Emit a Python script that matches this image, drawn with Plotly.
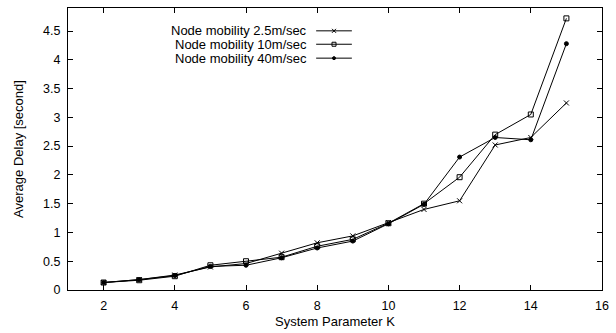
import plotly.graph_objects as go

K = [2, 3, 4, 5, 6, 7, 8, 9, 10, 11, 12, 13, 14, 15]
mob_2_5 = [0.13, 0.18, 0.26, 0.40, 0.46, 0.64, 0.82, 0.94, 1.17, 1.40, 1.55, 2.52, 2.65, 3.25]
mob_10 = [0.13, 0.17, 0.24, 0.43, 0.50, 0.57, 0.76, 0.88, 1.16, 1.50, 1.96, 2.70, 3.05, 4.72]
mob_40 = [0.13, 0.18, 0.25, 0.41, 0.43, 0.56, 0.73, 0.85, 1.15, 1.49, 2.31, 2.65, 2.61, 4.28]
names = ["Node mobility 2.5m/sec", "Node mobility 10m/sec", "Node mobility 40m/sec"]
symbols = ["x-thin-open", "square-open", "circle"]
sizes = [5, 5, 4]
series = [mob_2_5, mob_10, mob_40]

FONT = "Liberation Sans, Arial, sans-serif"
fig = go.Figure()
for s, nm, sym, sz in zip(series, names, symbols, sizes):
    fig.add_trace(go.Scatter(x=K, y=s, mode="lines+markers", name=nm,
                             line=dict(color="black", width=1),
                             marker=dict(symbol=sym, size=sz, color="black",
                                         line=dict(color="black", width=1)),
                             showlegend=False))

# manual gnuplot-style key (text right, sample on right)
W, H = 616, 333
ml, mr, mt, mb = 68, 10, 7, 42
pw, ph = W - ml - mr, H - mt - mb
def px(x):
    return (x - ml) / pw
def py(y):
    return (H - mb - y) / ph
rows = [30, 43.5, 57.5]
for i, (nm, sym, sz) in enumerate(zip(names, symbols, sizes)):
    y = py(rows[i])
    fig.add_annotation(x=px(311), y=y, xref="paper", yref="paper", text=nm,
                       showarrow=False, xanchor="right", yanchor="middle",
                       font=dict(family=FONT, size=13, color="black"))
    fig.add_shape(type="line", xref="paper", yref="paper", x0=px(318), x1=px(354),
                  y0=y, y1=y, line=dict(color="black", width=1))
    fig.add_trace(go.Scatter(x=[px(336)], y=[y], xaxis="x2", yaxis="y2", mode="markers",
                             marker=dict(symbol=sym, size=sz - 1, color="black",
                                         line=dict(color="black", width=1)),
                             showlegend=False, hoverinfo="skip"))

axis_common = dict(showgrid=False, zeroline=False, showline=True, linecolor="black",
                   linewidth=1, mirror="ticks", ticks="inside", ticklen=5,
                   tickcolor="black", ticklabelstandoff=4,
                   tickfont=dict(family=FONT, size=12.5, color="black"))
fig.update_layout(
    width=W, height=H,
    margin=dict(l=ml, r=mr, t=mt, b=mb),
    plot_bgcolor="white", paper_bgcolor="white",
    xaxis=dict(range=[1, 16], dtick=2, tick0=0,
               title=dict(text="System Parameter K", font=dict(family=FONT, size=13, color="black"), standoff=4),
               **axis_common),
    yaxis=dict(range=[0, 4.9], dtick=0.5, tick0=0,
               title=dict(text="Average Delay [second]", font=dict(family=FONT, size=13, color="black"), standoff=16),
               **axis_common),
    xaxis2=dict(range=[0, 1], overlaying="x", visible=False, anchor="y2"),
    yaxis2=dict(range=[0, 1], overlaying="y", visible=False, anchor="x2"),
    showlegend=False,
)
fig.write_html("out.html", config={"displayModeBar": False},
               post_script="document.body.style.margin='0';")
